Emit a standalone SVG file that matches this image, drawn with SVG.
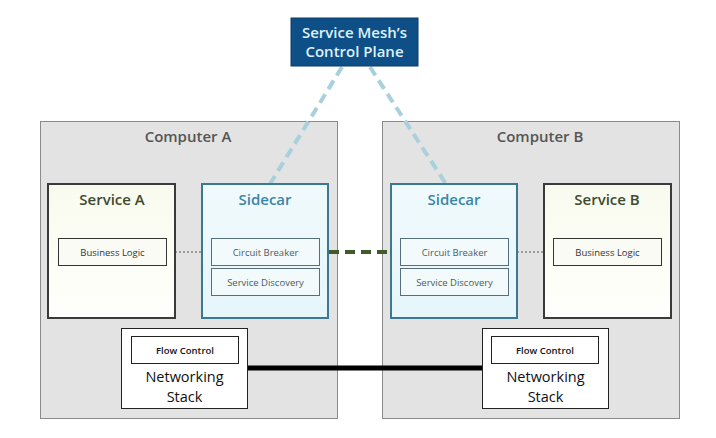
<svg xmlns="http://www.w3.org/2000/svg" width="716" height="438" viewBox="0 0 716 438">
<style>
text{font-family:"Open Sans","DejaVu Sans","Liberation Sans",sans-serif;text-anchor:middle}
.comp{fill:#e3e3e3;stroke:#8a8a8a;stroke-width:1}
.comptxt{font-size:15px;fill:#555;font-weight:600}
.svc{fill:url(#gy);stroke:#3a3a3a;stroke-width:2}
.svctxt{font-size:15px;fill:#3e4a2e;font-weight:600}
.side{fill:url(#gb);stroke:#3b7893;stroke-width:2}
.sidetxt{font-size:15px;fill:#3a86a8;font-weight:600}
.inner{fill:#fbfbf6;stroke:#333;stroke-width:1}
.innerb{fill:#f3fafb;stroke:#55707c;stroke-width:1}
.small{font-size:9.5px;fill:#333}
.smallb{font-size:9.5px;fill:#4c5a62}
.net{fill:#fff;stroke:#222;stroke-width:1}
.nettxt{font-size:14.5px;fill:#111}
.fc{font-size:9.5px;fill:#111;font-weight:600}
</style>
<defs>
<linearGradient id="gy" x1="0" y1="0" x2="0" y2="1"><stop offset="0" stop-color="#f9fbef"/><stop offset="1" stop-color="#fefffb"/></linearGradient>
<linearGradient id="gb" x1="0" y1="0" x2="0" y2="1"><stop offset="0" stop-color="#f0fafc"/><stop offset="1" stop-color="#e6f6fb"/></linearGradient>
</defs>
<g id="computerA"><rect class="comp" x="40.5" y="121.5" width="297" height="297"/><text class="comptxt" x="188" y="142">Computer A</text></g>
<g id="computerB"><rect class="comp" x="382.5" y="121.5" width="297" height="297"/><text class="comptxt" x="540" y="142">Computer B</text></g>
<g id="connectors">
<line x1="342" y1="67" x2="270" y2="184" stroke="#a8d0dd" stroke-width="4" stroke-dasharray="10,6"/>
<line x1="370" y1="67" x2="446" y2="184" stroke="#a8d0dd" stroke-width="4" stroke-dasharray="10,6"/>
<line x1="167" y1="252" x2="202" y2="252" stroke="#555" stroke-width="1" stroke-dasharray="2,2"/>
<line x1="517" y1="252" x2="544" y2="252" stroke="#555" stroke-width="1" stroke-dasharray="2,2"/>
<line x1="329" y1="252" x2="390" y2="252" stroke="#3f5b2c" stroke-width="4" stroke-dasharray="10,6"/>
<line x1="247" y1="368" x2="482" y2="368" stroke="#000" stroke-width="5"/>
</g>
<g id="controlPlane"><rect x="291" y="18" width="127" height="48" fill="#0d4f86" stroke="#0a3d66" stroke-width="1"/><text x="354.5" y="38" font-size="15" font-weight="600" fill="#dff2fb">Service Mesh’s</text><text x="354.5" y="57" font-size="15" font-weight="600" fill="#dff2fb">Control Plane</text></g>
<g id="serviceA"><rect class="svc" x="48" y="184" width="127" height="134"/><text class="svctxt" x="112" y="205">Service A</text></g>
<g id="businessLogicA"><rect class="inner" x="58.5" y="238.5" width="108" height="27"/><text class="small" x="112.5" y="255.5">Business Logic</text></g>
<g id="sidecarA"><rect class="side" x="202" y="184" width="126" height="134"/><text class="sidetxt" x="265" y="205">Sidecar</text></g>
<g id="circuitBreakerA"><rect class="innerb" x="211.5" y="238.5" width="108" height="27"/><text class="smallb" x="265.5" y="255.5">Circuit Breaker</text></g>
<g id="serviceDiscoveryA"><rect class="innerb" x="211.5" y="268.5" width="108" height="27"/><text class="smallb" x="265.5" y="285.5">Service Discovery</text></g>
<g id="sidecarB"><rect class="side" x="391" y="184" width="126" height="134"/><text class="sidetxt" x="454" y="205">Sidecar</text></g>
<g id="circuitBreakerB"><rect class="innerb" x="400.5" y="238.5" width="108" height="27"/><text class="smallb" x="454.5" y="255.5">Circuit Breaker</text></g>
<g id="serviceDiscoveryB"><rect class="innerb" x="400.5" y="268.5" width="108" height="27"/><text class="smallb" x="454.5" y="285.5">Service Discovery</text></g>
<g id="serviceB"><rect class="svc" x="544" y="184" width="127" height="134"/><text class="svctxt" x="607" y="205">Service B</text></g>
<g id="businessLogicB"><rect class="inner" x="553.5" y="238.5" width="108" height="27"/><text class="small" x="607.5" y="255.5">Business Logic</text></g>
<g id="networkingA"><rect class="net" x="121.5" y="328.5" width="126" height="80"/><rect class="net" x="131.5" y="336.5" width="107" height="27"/><text class="fc" x="185" y="353.5">Flow Control</text><text class="nettxt" x="184.5" y="382">Networking</text><text class="nettxt" x="184.5" y="401.5">Stack</text></g>
<g id="networkingB"><rect class="net" x="482.5" y="328.5" width="126" height="80"/><rect class="net" x="491.5" y="336.5" width="107" height="27"/><text class="fc" x="545" y="353.5">Flow Control</text><text class="nettxt" x="545.5" y="382">Networking</text><text class="nettxt" x="545.5" y="401.5">Stack</text></g>
</svg>
